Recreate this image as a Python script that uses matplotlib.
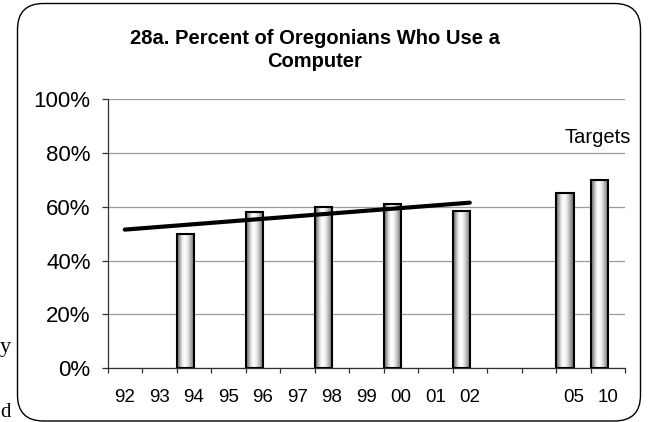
import numpy as np
import matplotlib
matplotlib.use('Agg')
import matplotlib.pyplot as plt
from matplotlib.patches import FancyBboxPatch

# ---- data ----
categories = ['92', '93', '94', '95', '96', '97', '98', '99', '00', '01', '02', '', '', '05', '10']
values = [None, None, 50, None, 58, None, 60, None, 61, None, 58.5, None, None, 65, 70]
trend_last_index = 10  # trend drawn over 92..02
title = "28a. Percent of Oregonians Who Use a\nComputer"
ytick_values = [0, 20, 40, 60, 80, 100]
ytick_labels = ['0%', '20%', '40%', '60%', '80%', '100%']
annotation = "Targets"

plt.rcParams['font.family'] = ['Liberation Sans', 'DejaVu Sans']

W, H = 650, 422
fig = plt.figure(figsize=(6.5, 4.22), dpi=100)
fig.patch.set_facecolor('white')

# rounded frame (in inches)
fx0, fx1, fy0, fy1 = 17.5, 640.5, 3.5, 421.0  # pixel extents (top-left origin)
frame = FancyBboxPatch((fx0 / 100, (H - fy1) / 100), (fx1 - fx0) / 100, (fy1 - fy0) / 100,
                       boxstyle="round,pad=0,rounding_size=0.26",
                       transform=fig.dpi_scale_trans, facecolor='none',
                       edgecolor='black', lw=1.0, clip_on=False)
fig.patches.append(frame)

# stray document text fragments on the left edge
fig.text(0 / W, 1 - 352 / H, 'y', fontsize=16, family='Liberation Serif', va='baseline', ha='left')
fig.text(0.5 / W, 1 - 417 / H, 'd', fontsize=15, family='Liberation Serif', va='baseline', ha='left')

ax_l, ax_r, ax_t, ax_b = 107.5, 625, 99, 368.3
ax = fig.add_axes([ax_l / W, 1 - ax_b / H, (ax_r - ax_l) / W, (ax_b - ax_t) / H])
ax.set_facecolor('none')

n = len(categories)
xs = np.arange(n)
bar_w = 0.51

grad = np.array([[0.45, 0.62, 0.85, 0.97, 1.0, 0.95, 0.85, 0.72, 0.58, 0.45]])
for i, v in enumerate(values):
    if v is None:
        continue
    left = xs[i] - 0.5
    bars = ax.bar(left, v, width=bar_w, align='edge', facecolor='none',
                  edgecolor='black', lw=1.5, zorder=4)
    im = ax.imshow(grad, extent=[left, left + bar_w, 0, v], aspect='auto',
                   cmap='gray', vmin=0, vmax=1, zorder=3, interpolation='bicubic')
    im.set_clip_path(bars.patches[0])

# linear trend over 92..02
tx = np.array([i for i in range(trend_last_index + 1) if values[i] is not None])
ty = np.array([values[i] for i in tx])
slope, intercept = np.polyfit(tx, ty, 1)
lx = np.array([0, trend_last_index])
ax.plot(lx, slope * lx + intercept, color='black', lw=3.0, zorder=5, solid_capstyle='round')

ax.set_xlim(-0.5, n - 0.5)
ax.set_ylim(0, 100)

ax.set_yticks(ytick_values)
ax.set_yticklabels(ytick_labels, fontsize=16)
ax.yaxis.grid(True, color='#9a9a9a', lw=0.9, zorder=0)
ax.set_axisbelow(True)

ax.set_xticks(xs)
ax.set_xticklabels(categories, fontsize=13.5)
ax.set_xticks(np.arange(n + 1) - 0.5, minor=True)
ax.tick_params(axis='x', which='major', length=0, pad=15)
ax.tick_params(axis='x', which='minor', length=3.8, direction='out', width=0.9, color='#303030')
ax.tick_params(axis='y', length=4.6, direction='out', width=0.9, pad=7.5, color='#303030')

for s in ['top', 'right']:
    ax.spines[s].set_visible(False)
for s in ['left', 'bottom']:
    ax.spines[s].set_linewidth(0.9)
    ax.spines[s].set_color('#303030')

fig.text(315 / W, 1 - 50 / H, title, ha='center', va='center',
         fontsize=14.5, fontweight='bold', linespacing=1.25)

fig.text(631 / W, 1 - 137 / H, annotation, ha='right', va='center', fontsize=14.5)

fig.savefig('out.png', dpi=100)
